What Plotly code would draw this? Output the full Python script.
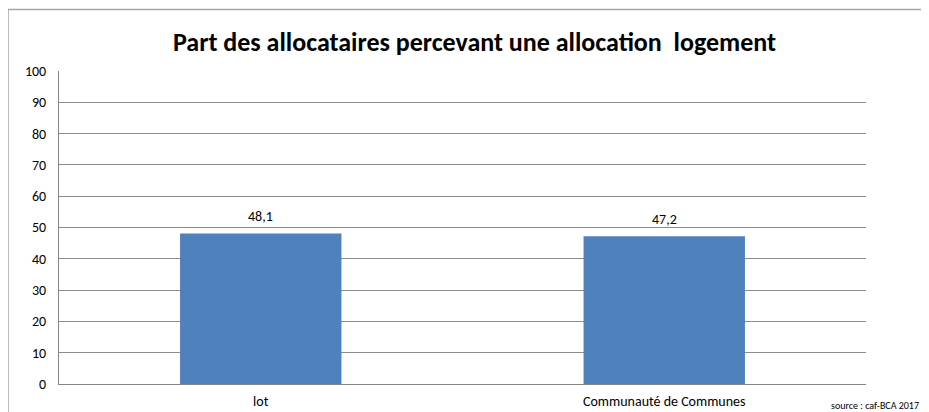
import plotly.graph_objects as go

categories = ["lot", "Communauté de Communes"]
values = [48.1, 47.2]
y_ticks = [0, 10, 20, 30, 40, 50, 60, 70, 80, 90, 100]
title_text = "Part des allocataires percevant une allocation  logement"
source_text = "source : caf-BCA 2017"

FONT = "Carlito, Lato, sans-serif"

# page body has an 8px margin, so figure coords = page coords - 8
W, H = 921, 404
L, R, T, B = 51, 63, 63, 28

fig = go.Figure(go.Bar(
    x=categories, y=values,
    marker=dict(color="#4F81BD", line=dict(width=0)),
))

label_annotations = [
    dict(x=c, y=v, xref="x", yref="y", text=f"{v:.1f}".replace(".", ","),
         showarrow=False, xanchor="center", yanchor="bottom", yshift=6,
         font=dict(family=FONT, size=14, color="#000000"))
    for c, v in zip(categories, values)
]

fig.update_layout(
    width=W, height=H,
    margin=dict(l=L, r=R, t=T, b=B, autoexpand=False),
    paper_bgcolor="white", plot_bgcolor="white",
    bargap=0.6, showlegend=False,
    separators=", ",
    title=dict(text=f"<b>{title_text}</b>", x=466.5 / W, xanchor="center",
               xref="container",
               y=1 - 34 / H, yanchor="middle",
               font=dict(family=FONT, size=26, color="#000000")),
    font=dict(family=FONT, size=14, color="#000000"),
    xaxis=dict(showline=True, linecolor="#868686", linewidth=1,
               ticks="", ticklabelstandoff=4,
               tickfont=dict(family=FONT, size=14, color="#000000"),
               showgrid=False),
    yaxis=dict(range=[0, 100], tickvals=y_ticks, showline=True,
               linecolor="#868686", linewidth=1, gridcolor="#8C8C8C",
               gridwidth=1, ticks="", ticklen=0, ticklabelstandoff=9,
               tickfont=dict(family=FONT, size=14, color="#000000"),
               zeroline=False),
    shapes=[
        dict(type="line", xref="paper", yref="paper",
             x0=-51 / 807, x1=-51 / 807, y0=-0.2, y1=1 + 61.4 / 312.5,
             line=dict(color="#A6A6A6", width=1.5)),
        dict(type="line", xref="paper", yref="paper",
             x0=-51 / 807, x1=1.2, y0=1 + 61.4 / 312.5, y1=1 + 61.4 / 312.5,
             line=dict(color="#A6A6A6", width=1.5)),
    ],
    annotations=label_annotations + [
        dict(text=source_text, xref="paper", yref="paper",
             x=(913 - 51) / 807, y=-(405 - 384) / 312.5,
             xanchor="right", yanchor="middle", showarrow=False,
             font=dict(family=FONT, size=10, color="#000000"))],
)

fig.write_html("out.html")
